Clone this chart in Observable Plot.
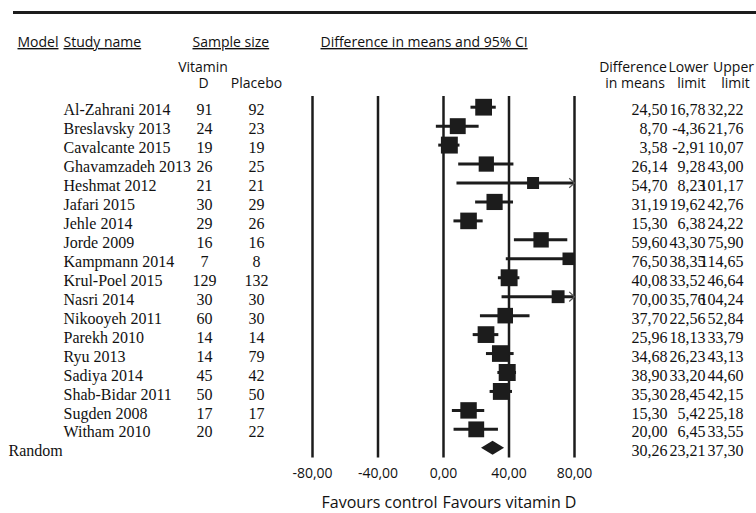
<!DOCTYPE html>
<html>
<head>
<meta charset="utf-8">
<script src="https://cdn.jsdelivr.net/npm/d3@7"></script>
<script src="https://cdn.jsdelivr.net/npm/@observablehq/plot@0.6"></script>
<style>
  body { margin: 0; background: #fff; }
  #chart { position: relative; width: 756px; height: 513px; }
  #chart .top-rule { position: absolute; left: 13px; top: 11px; width: 743px; border-top: 3px solid #1c1c1c; }
</style>
</head>
<body>
<div id="chart"><div class="top-rule"></div></div>
<script>
// Vitamin D vs placebo: difference in means with 95% confidence intervals
const studies = [
  "Al-Zahrani 2014", "Breslavsky 2013", "Cavalcante 2015", "Ghavamzadeh 2013",
  "Heshmat 2012", "Jafari 2015", "Jehle 2014", "Jorde 2009", "Kampmann 2014",
  "Krul-Poel 2015", "Nasri 2014", "Nikooyeh 2011", "Parekh 2010", "Ryu 2013",
  "Sadiya 2014", "Shab-Bidar 2011", "Sugden 2008", "Witham 2010"
];
const vitaminN = [91, 24, 19, 26, 21, 30, 29, 16, 7, 129, 30, 60, 14, 14, 45, 50, 17, 20];
const placeboN = [92, 23, 19, 25, 21, 29, 26, 16, 8, 132, 30, 30, 14, 79, 42, 50, 17, 22];
const diffs  = [24.50, 8.70, 3.58, 26.14, 54.70, 31.19, 15.30, 59.60, 76.50, 40.08, 70.00, 37.70, 25.96, 34.68, 38.90, 35.30, 15.30, 20.00];
const lowers = [16.78, -4.36, -2.91, 9.28, 8.23, 19.62, 6.38, 43.30, 38.35, 33.52, 35.76, 22.56, 18.13, 26.23, 33.20, 28.45, 5.42, 6.45];
const uppers = [32.22, 21.76, 10.07, 43.00, 101.17, 42.76, 24.22, 75.90, 114.65, 46.64, 104.24, 52.84, 33.79, 43.13, 44.60, 42.15, 25.18, 33.55];

const pooledLabel = "Random";
const pooledDiff = 30.26;
const pooledLower = 23.21;
const pooledUpper = 37.30;

const axisTicks = [-80, -40, 0, 40, 80];
const favoursLeft = "Favours control";
const favoursRight = "Favours vitamin D";
const headings = ["Model", "Study name", "Sample size", "Difference in means and 95% CI"];

// ---- derived table ----
const z = 1.96;
const rows = studies.map((study, i) => {
  const se = (uppers[i] - lowers[i]) / (2 * z);
  return { study, row: i, nVit: vitaminN[i], nPla: placeboN[i],
           diff: diffs[i], lower: lowers[i], upper: uppers[i], v: se * se };
});

// DerSimonian–Laird random-effects weights set the box sizes
const wFixed = rows.map(d => 1 / d.v);
const sumW = d3.sum(wFixed);
const yBar = d3.sum(rows, (d, i) => wFixed[i] * d.diff) / sumW;
const Q = d3.sum(rows, (d, i) => wFixed[i] * (d.diff - yBar) ** 2);
const C = sumW - d3.sum(wFixed, w => w * w) / sumW;
const tau2 = Math.max(0, (Q - (rows.length - 1)) / C);
rows.forEach(d => { d.weight = 1 / (d.v + tau2); });

const pooledRow = { study: pooledLabel, row: studies.length, diff: pooledDiff, lower: pooledLower, upper: pooledUpper };
const tableRows = [...rows, pooledRow];

// diamond outline for the pooled estimate
const diamondHalf = 0.37;
const diamond = [
  { x: pooledLower, top: pooledRow.row, bottom: pooledRow.row },
  { x: pooledDiff, top: pooledRow.row - diamondHalf, bottom: pooledRow.row + diamondHalf },
  { x: pooledUpper, top: pooledRow.row, bottom: pooledRow.row }
];

// ---- styling ----
const ink = "#1c1c1c";
const serif = "Liberation Serif, Times New Roman, serif";
const sans = "Open Sans, Noto Sans, sans-serif";
const W = 756, H = 513, mL = 312, mR = 182;
const xMin = -80, xMax = 80;
const fmt = v => v.toFixed(2).replace(".", ",");
const clip = v => Math.max(xMin, Math.min(xMax, v));

// open chevron drawn at the end of intervals that run past the axis
const chevron = {
  draw(ctx, size) {
    const s = Math.sqrt(size / Math.PI);
    ctx.moveTo(-s * 1.1, -s);
    ctx.lineTo(0, 0);
    ctx.lineTo(-s * 1.1, s);
  }
};

// free-standing text placed in the page frame
const label = (text, x, y, anchor = "start", opts = {}) =>
  Plot.text([text], {
    text: d => d, frameAnchor: "top-left", dx: x - mL, dy: y,
    textAnchor: anchor, lineAnchor: "middle",
    fontFamily: sans, fontSize: 14, fill: "#111", ...opts
  });

const chart = Plot.plot({
  width: W, height: H,
  marginLeft: mL, marginRight: mR, marginTop: 0, marginBottom: 0,
  x: { domain: [xMin, xMax], axis: null },
  y: { domain: [0, studies.length], range: [106.7, 447.8], axis: null },
  r: { type: "linear", domain: d3.extent(rows, d => d.weight), range: [12 / Math.sqrt(Math.PI), 17 / Math.sqrt(Math.PI)] },
  marks: [
    // vertical reference lines
    Plot.ruleX(axisTicks, { stroke: ink, strokeWidth: 2.5, insetTop: 96, insetBottom: H - 457.5 }),
    // confidence intervals
    Plot.ruleY(rows, { y: "row", x1: d => clip(d.lower), x2: d => clip(d.upper), stroke: ink, strokeWidth: 3 }),
    Plot.dot(rows.filter(d => d.upper > xMax), { x: () => xMax, y: "row", symbol: chevron, r: 4.8, fill: "none", stroke: "#555", strokeWidth: 1.2 }),
    // study estimates
    Plot.dot(rows, { x: "diff", y: "row", r: "weight", symbol: "square", fill: ink }),
    // pooled estimate
    Plot.areaY(diamond, { x: "x", y1: "top", y2: "bottom", fill: ink }),

    // table columns
    Plot.text(rows, { y: "row", dy: 3, text: "study", frameAnchor: "left", dx: 63 - mL, textAnchor: "start", fontFamily: serif, fontSize: 16, fill: "#111" }),
    Plot.text(rows, { y: "row", dy: 3, text: "nVit", frameAnchor: "left", dx: 204 - mL, textAnchor: "middle", fontFamily: serif, fontSize: 16, fill: "#111" }),
    Plot.text(rows, { y: "row", dy: 3, text: "nPla", frameAnchor: "left", dx: 256 - mL, textAnchor: "middle", fontFamily: serif, fontSize: 16, fill: "#111" }),
    Plot.text([pooledRow], { y: "row", dy: 3, text: "study", frameAnchor: "left", dx: 8 - mL, textAnchor: "start", fontFamily: serif, fontSize: 16, fill: "#111" }),
    Plot.text(tableRows, { y: "row", dy: 3, text: d => fmt(d.diff), frameAnchor: "right", dx: 667 - (W - mR), textAnchor: "end", fontFamily: serif, fontSize: 16, fill: "#111" }),
    Plot.text(tableRows, { y: "row", dy: 3, text: d => fmt(d.lower), frameAnchor: "right", dx: 705 - (W - mR), textAnchor: "end", fontFamily: serif, fontSize: 16, fill: "#111" }),
    Plot.text(tableRows, { y: "row", dy: 3, text: d => fmt(d.upper), frameAnchor: "right", dx: 743 - (W - mR), textAnchor: "end", fontFamily: serif, fontSize: 16, fill: "#111" }),

    // column headings
    label(headings[0], 17, 42),
    label(headings[1], 63, 42),
    label(headings[2], 192, 42),
    label(headings[3], 320, 42),
    label("Vitamin", 202.5, 67, "middle"),
    label("D", 203, 83.5, "middle"),
    label("Placebo", 256, 83.5, "middle"),
    label("Difference", 632.5, 67, "middle"),
    label("in means", 634.5, 83.5, "middle"),
    label("Lower", 688, 67, "middle"),
    label("limit", 691, 83.5, "middle"),
    label("Upper", 733, 67, "middle"),
    label("limit", 735, 83.5, "middle"),

    // axis tick labels
    Plot.text(axisTicks, { x: d => d, text: fmt, frameAnchor: "top", dy: 473.5, lineAnchor: "middle", fontFamily: sans, fontSize: 14, fill: "#111" }),
    // direction captions
    Plot.text([favoursLeft], { x: () => 0, text: d => d, frameAnchor: "top", dy: 502, dx: -6, textAnchor: "end", lineAnchor: "middle", fontFamily: sans, fontSize: 16, fill: "#111" }),
    Plot.text([favoursRight], { x: () => 0, text: d => d, frameAnchor: "top", dy: 502, dx: -1, textAnchor: "start", lineAnchor: "middle", fontFamily: sans, fontSize: 16, fill: "#111" })
  ]
});

// underline the column headings
d3.select(chart).selectAll("text")
  .filter(function () { return headings.includes(this.textContent); })
  .attr("text-decoration", "underline")
  .style("text-decoration", "underline");

document.getElementById("chart").appendChild(chart);
</script>
</body>
</html>
